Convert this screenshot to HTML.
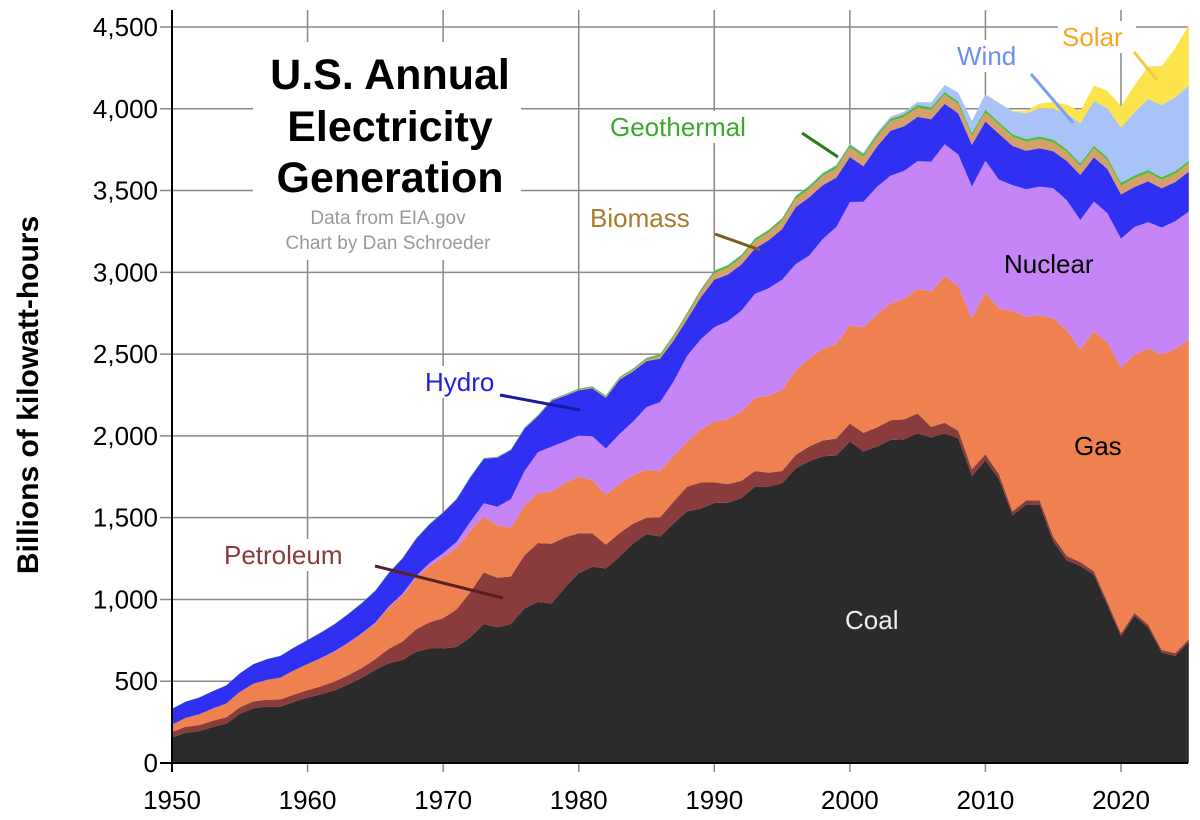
<!DOCTYPE html>
<html><head><meta charset="utf-8"><style>
body{margin:0;background:#fff;}
svg{display:block;font-family:"Liberation Sans",Arial,sans-serif;}
</style></head><body>
<svg id="s" width="1200" height="820" xmlns="http://www.w3.org/2000/svg"></svg>
<script>
const X=y=>172+(y-1950)*13.557, Y=v=>763-v*0.16356;
function interp(pts){const ys=Object.keys(pts).map(Number).sort((a,b)=>a-b);const out=[];
for(let y=1950;y<=2025;y++){let v;if(y<=ys[0])v=pts[ys[0]];else if(y>=ys[ys.length-1])v=pts[ys[ys.length-1]];else{for(let i=0;i<ys.length-1;i++){if(y>=ys[i]&&y<=ys[i+1]){const t=(y-ys[i])/(ys[i+1]-ys[i]);v=pts[ys[i]]+(pts[ys[i+1]]-pts[ys[i]])*t;break;}}}out.push(v);}return out;}
const coal=interp({1950:155,1951:185,1952:195,1953:220,1954:240,1955:300,1956:335,1957:345,1958:345,1959:375,1960:400,1961:420,1962:445,1963:480,1964:520,1965:570,1966:610,1967:630,1968:680,1969:700,1970:700,1971:710,1972:770,1973:850,1974:830,1975:850,1976:945,1977:985,1978:975,1979:1075,1980:1160,1981:1200,1982:1190,1983:1260,1984:1340,1985:1400,1986:1385,1987:1465,1988:1540,1989:1555,1990:1590,1991:1590,1992:1620,1993:1690,1994:1690,1995:1710,1996:1800,1997:1845,1998:1875,1999:1880,2000:1965,2001:1905,2002:1935,2003:1975,2004:1980,2005:2015,2006:1990,2007:2015,2008:1985,2009:1755,2010:1850,2011:1735,2012:1515,2013:1580,2014:1580,2015:1355,2016:1240,2017:1205,2018:1150,2019:965,2020:775,2021:900,2022:830,2023:675,2024:655,2025:740});
const pet=interp({1950:35,1960:45,1965:65,1970:185,1972:275,1973:315,1975:290,1977:360,1978:365,1979:305,1980:245,1981:205,1982:145,1983:145,1985:100,1988:150,1989:160,1990:125,1995:75,1997:90,2000:110,2003:120,2005:122,2006:64,2007:65,2008:46,2010:37,2012:23,2015:28,2020:17,2025:16});
const gas=interp({1950:45,1955:95,1960:160,1965:220,1970:375,1972:375,1973:340,1975:300,1977:305,1980:346,1982:305,1985:292,1988:273,1990:373,1995:496,2000:601,2002:691,2005:761,2007:897,2008:883,2009:921,2010:988,2011:1013,2012:1226,2013:1125,2014:1130,2015:1335,2016:1379,2017:1297,2018:1469,2019:1586,2020:1624,2021:1579,2022:1688,2023:1806,2024:1860,2025:1830});
const nuc=interp({1950:0,1957:0,1960:0.5,1965:4,1968:13,1970:22,1972:54,1973:83,1974:114,1975:173,1977:251,1978:276,1979:255,1980:251,1982:283,1984:328,1985:384,1987:455,1988:527,1990:577,1992:619,1995:673,1997:629,1998:673,2000:754,2002:780,2005:782,2007:806,2010:807,2012:769,2015:797,2020:790,2022:772,2025:785});
const hyd=interp({1950:96,1955:113,1960:146,1965:194,1970:248,1972:272,1973:272,1974:301,1975:300,1977:220,1978:280,1980:276,1982:309,1983:332,1985:281,1987:250,1988:223,1990:290,1993:277,1995:310,1996:347,1997:356,2000:275,2001:217,2003:275,2005:270,2007:247,2009:255,2010:240,2011:280,2012:240,2013:235,2014:235,2015:225,2016:240,2017:275,2018:270,2020:270,2021:245,2022:250,2023:240,2024:240,2025:245});
const bio=interp({1950:0,1975:2,1980:5,1985:10,1990:40,2000:60,2010:56,2020:55,2025:50});
const geo=interp({1950:0,1975:3,1985:9,1990:15,2025:16});
const wind=interp({1950:0,1994:2,1995:3,2000:6,2005:18,2008:55,2010:95,2012:140,2015:190,2019:300,2020:338,2022:434,2024:450,2025:460});
const sol=interp({1950:0,2009:0,2010:1,2012:4,2014:28,2016:55,2018:95,2019:107,2020:130,2022:200,2023:238,2024:300,2025:370});
const layers=[[coal,'#2b2b2b'],[pet,'#8a3b3b'],[gas,'#ee814f'],[nuc,'#c585f6'],[hyd,'#2f30f2'],[bio,'#d5a06c'],[geo,'#4cbc3c'],[wind,'#a9c3f9'],[sol,'#fbe44c']];
let svg='';
for(let v=500;v<=4500;v+=500)svg+=`<line x1="160" x2="1188" y1="${Y(v)}" y2="${Y(v)}" stroke="#888" stroke-width="1.5"/>`;
for(let y=1960;y<=2020;y+=10)svg+=`<line x1="${X(y)}" x2="${X(y)}" y1="10" y2="772" stroke="#888" stroke-width="1.5"/>`;
let base=new Array(76).fill(0);
for(const [d,c] of layers){const top=base.map((b,i)=>b+d[i]);let p='M';for(let i=0;i<76;i++)p+=X(1950+i).toFixed(1)+','+Y(top[i]).toFixed(1)+' L';for(let i=75;i>=0;i--)p+=X(1950+i).toFixed(1)+','+Y(base[i]).toFixed(1)+(i?' L':' Z');svg+=`<path d="${p}" fill="${c}"/>`;base=top;}
svg+=`<line x1="172" x2="172" y1="10" y2="772" stroke="#000" stroke-width="2"/><line x1="160" x2="1188" y1="763" y2="763" stroke="#000" stroke-width="2"/>`;
for(let v=0;v<=4500;v+=500)svg+=`<text x="158" y="${Y(v)+9}" font-size="26" text-anchor="end">${v.toLocaleString('en-US')}</text>`;
for(let y=1950;y<=2020;y+=10)svg+=`<text x="${X(y)}" y="809" font-size="26" text-anchor="middle">${y}</text>`;
svg+=`<text x="0" y="0" transform="translate(38,395) rotate(-90)" font-size="30" font-weight="bold" text-anchor="middle">Billions of kilowatt-hours</text>`;
svg+=`<rect x="253" y="42" width="268" height="218" fill="#fff"/>`;
svg+=`<g font-weight="bold" font-size="43" text-anchor="middle"><text x="390" y="89">U.S. Annual</text><text x="390" y="141">Electricity</text><text x="390" y="192">Generation</text></g>`;
svg+=`<g fill="#999" font-size="19" text-anchor="middle"><text x="388" y="224">Data from EIA.gov</text><text x="388" y="249">Chart by Dan Schroeder</text></g>`;
function lab(t,x,y,w,col,fs){svg+=`<rect x="${x-4}" y="${y-fs+1}" width="${w}" height="${fs+6}" fill="#fff"/><text x="${x}" y="${y}" font-size="${fs}" fill="${col}">${t}</text>`;}
lab('Hydro',425,391,90,'#2020e0',26);
svg+=`<line x1="500" y1="395" x2="580" y2="410" stroke="#1a1aa0" stroke-width="3"/>`;
lab('Petroleum',224,564,144,'#8a3b3b',26);
svg+=`<line x1="375" y1="566" x2="503" y2="598" stroke="#5a1f1f" stroke-width="3"/>`;
lab('Biomass',590,227,124,'#a87a2a',26);
svg+=`<line x1="715" y1="234" x2="760" y2="250" stroke="#7a5a20" stroke-width="3"/>`;
lab('Geothermal',610,136,192,'#3aaa2a',26);
svg+=`<line x1="802" y1="133" x2="838" y2="157" stroke="#2a7a1a" stroke-width="3"/>`;
lab('Wind',957,65,80,'#6a8ff0',26);
svg+=`<line x1="1031" y1="74" x2="1073" y2="123" stroke="#7f9ef0" stroke-width="3"/>`;
lab('Solar',1062,46,78,'#f5a623',26);
svg+=`<line x1="1134" y1="52" x2="1157" y2="80" stroke="#f3cb45" stroke-width="3"/>`;
svg+=`<text x="1004" y="273" font-size="26">Nuclear</text><text x="1074" y="455" font-size="26">Gas</text><text x="845" y="629" font-size="26" fill="#eee">Coal</text>`;
document.getElementById('s').innerHTML=svg;
</script>
</body></html>
